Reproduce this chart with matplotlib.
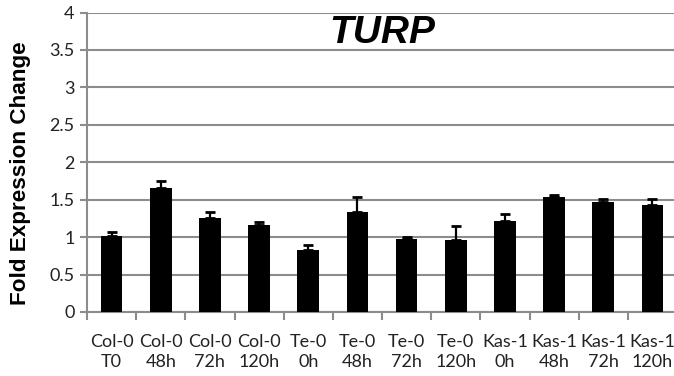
import matplotlib
matplotlib.use("Agg")
import matplotlib.pyplot as plt
import numpy as np

categories = ["Col-0\nT0", "Col-0\n48h", "Col-0\n72h", "Col-0\n120h",
              "Te-0\n0h", "Te-0\n48h", "Te-0\n72h", "Te-0\n120h",
              "Kas-1\n0h", "Kas-1\n48h", "Kas-1\n72h", "Kas-1\n120h"]
fold_change = [1.01, 1.65, 1.25, 1.16, 0.83, 1.33, 0.97, 0.96, 1.21, 1.54, 1.465, 1.43]
error = [0.06, 0.10, 0.08, 0.04, 0.06, 0.20, 0.03, 0.19, 0.10, 0.02, 0.05, 0.08]
y_ticks = [0, 0.5, 1, 1.5, 2, 2.5, 3, 3.5, 4]
y_tick_labels = ["0", "0.5", "1", "1.5", "2", "2.5", "3", "3.5", "4"]

grid_grey = "#8c8c8c"

fig = plt.figure(figsize=(6.74, 3.76), dpi=100)
ax = fig.add_axes([87 / 674, 1 - 312 / 376, 590 / 674, 299.5 / 376])

x = np.arange(len(categories))
ax.bar(x, fold_change, width=0.44, color="black", zorder=3)
ax.errorbar(x, fold_change, yerr=[np.zeros(len(error)), error], fmt="none",
            ecolor="black", elinewidth=1.6, capsize=3.3, capthick=2, zorder=4)

ax.set_xlim(-0.5, len(categories) - 0.5)
ax.set_ylim(0, 4)
ax.set_yticks(y_ticks)
ax.set_yticklabels(y_tick_labels, family="Lato", fontsize=13, color="#222222")
ax.yaxis.grid(True, color=grid_grey, linewidth=1.5, zorder=0)
ax.tick_params(axis="y", length=5, width=1.5, color=grid_grey, pad=4)

ax.set_xticks(x)
ax.set_xticklabels(categories, family="Lato", fontsize=13, color="#222222",
                   linespacing=1.3)
ax.tick_params(axis="x", which="major", length=0, pad=16)
ax.set_xticks(np.arange(len(categories) + 1) - 0.5, minor=True)
ax.tick_params(axis="x", which="minor", length=6, width=1.5, color=grid_grey)

for side in ("top", "right"):
    ax.spines[side].set_visible(False)
for side in ("left", "bottom"):
    ax.spines[side].set_color(grid_grey)
    ax.spines[side].set_linewidth(1.5)

fig.text(382 / 674, 1 - 33 / 376, "TURP", ha="center", va="center",
         family="Liberation Sans", fontsize=28, fontweight="bold", style="italic")
fig.text(21 / 674, 1 - 173 / 376, "Fold Expression Change", ha="center", va="center",
         rotation=90, family="Liberation Sans", fontsize=16.2, fontweight="bold")

fig.savefig("out.png", dpi=100)
